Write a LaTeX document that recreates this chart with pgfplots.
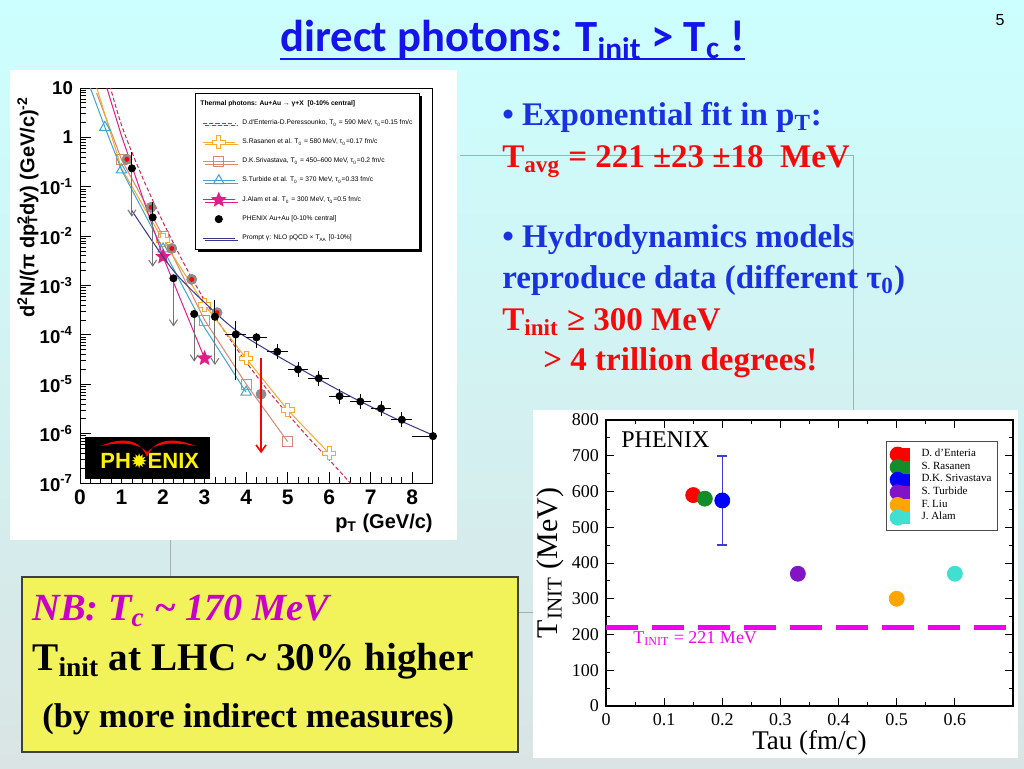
\documentclass[border=0pt]{standalone}
\usepackage{fontspec}
\setmainfont{Liberation Serif}
\newfontfamily\arial{Liberation Sans}
\newfontfamily\carlito{Carlito}
\newfontfamily\dejavu{DejaVu Sans}
\usepackage{pgfplots}
\pgfplotsset{compat=1.18}
\usetikzlibrary{arrows.meta,shadows}
\definecolor{bgtop}{RGB}{204,255,255}
\definecolor{bgbot}{RGB}{218,228,228}
\definecolor{titleblue}{RGB}{20,20,235}
\definecolor{txtblue}{RGB}{25,50,225}
\definecolor{txtred}{RGB}{245,10,10}
\definecolor{nbmag}{RGB}{200,0,200}
\definecolor{boxyellow}{RGB}{242,242,90}
\definecolor{denter}{RGB}{205,40,80}
\definecolor{rasan}{RGB}{245,170,40}
\definecolor{sriv}{RGB}{215,135,115}
\definecolor{turb}{RGB}{60,165,215}
\definecolor{alam}{RGB}{225,30,135}
\definecolor{nlo}{RGB}{55,55,140}
\definecolor{lineg}{RGB}{160,175,175}
\definecolor{cgreen}{RGB}{20,140,40}
\definecolor{cpurple}{RGB}{130,20,200}
\definecolor{corange}{RGB}{255,165,0}
\definecolor{cturq}{RGB}{64,224,208}
\definecolor{cmag}{RGB}{240,0,240}
\definecolor{ebblue}{RGB}{60,60,210}
\pgfdeclareplotmark{ocross}{%
  \pgfpathmoveto{\pgfqpoint{-0.33\pgfplotmarksize}{\pgfplotmarksize}}%
  \pgfpathlineto{\pgfqpoint{0.33\pgfplotmarksize}{\pgfplotmarksize}}%
  \pgfpathlineto{\pgfqpoint{0.33\pgfplotmarksize}{0.33\pgfplotmarksize}}%
  \pgfpathlineto{\pgfqpoint{\pgfplotmarksize}{0.33\pgfplotmarksize}}%
  \pgfpathlineto{\pgfqpoint{\pgfplotmarksize}{-0.33\pgfplotmarksize}}%
  \pgfpathlineto{\pgfqpoint{0.33\pgfplotmarksize}{-0.33\pgfplotmarksize}}%
  \pgfpathlineto{\pgfqpoint{0.33\pgfplotmarksize}{-\pgfplotmarksize}}%
  \pgfpathlineto{\pgfqpoint{-0.33\pgfplotmarksize}{-\pgfplotmarksize}}%
  \pgfpathlineto{\pgfqpoint{-0.33\pgfplotmarksize}{-0.33\pgfplotmarksize}}%
  \pgfpathlineto{\pgfqpoint{-\pgfplotmarksize}{-0.33\pgfplotmarksize}}%
  \pgfpathlineto{\pgfqpoint{-\pgfplotmarksize}{0.33\pgfplotmarksize}}%
  \pgfpathlineto{\pgfqpoint{-0.33\pgfplotmarksize}{0.33\pgfplotmarksize}}%
  \pgfpathclose\pgfusepathqfillstroke}
\pgfdeclareplotmark{fstar}{%
  \pgfpathmoveto{\pgfqpointpolar{90}{\pgfplotmarksize}}%
  \pgfpathlineto{\pgfqpointpolar{126}{0.45\pgfplotmarksize}}%
  \pgfpathlineto{\pgfqpointpolar{162}{\pgfplotmarksize}}%
  \pgfpathlineto{\pgfqpointpolar{198}{0.45\pgfplotmarksize}}%
  \pgfpathlineto{\pgfqpointpolar{234}{\pgfplotmarksize}}%
  \pgfpathlineto{\pgfqpointpolar{270}{0.45\pgfplotmarksize}}%
  \pgfpathlineto{\pgfqpointpolar{306}{\pgfplotmarksize}}%
  \pgfpathlineto{\pgfqpointpolar{342}{0.45\pgfplotmarksize}}%
  \pgfpathlineto{\pgfqpointpolar{18}{\pgfplotmarksize}}%
  \pgfpathlineto{\pgfqpointpolar{54}{0.45\pgfplotmarksize}}%
  \pgfpathclose\pgfusepathqfillstroke}
\begin{document}
\begin{tikzpicture}[x=0.5pt,y=0.5pt]
\shade[top color=bgtop, bottom color=bgbot] (0,0) rectangle (1024,768);
\draw[lineg, line width=0.5pt] (460,613) -- (853,613) -- (853,358);
\draw[lineg, line width=0.5pt] (170,228) -- (170,191);
\draw[lineg, line width=0.5pt] (518,156) -- (533,156);
\fill[white] (10,228) rectangle (457,698);
\fill[white] (533,10) rectangle (1018,358);
\filldraw[fill=boxyellow, draw=black!75, line width=0.6pt] (22,16) rectangle (518,191);

% ---------------- title
\node[anchor=base west, inner sep=0pt, text=titleblue, font=\carlito\bfseries\fontsize{22.3}{22.3}\selectfont] (title) at (280,716) {direct photons: T\textsubscript{init} > T\textsubscript{c} !};
\draw[titleblue, line width=1pt] ([yshift=-3.5pt]title.base west) -- ([yshift=-3.5pt]title.base east);
\node[font=\arial\fontsize{8}{8}\selectfont] at (1000,748) {5};

% ---------------- right text
\begin{scope}[every node/.style={anchor=base west, inner sep=0pt, font=\bfseries\fontsize{16.5}{16.5}\selectfont}]
\node[text=txtblue] at (502,643) {•\ Exponential fit in p\textsubscript{T}:};
\node[text=txtred] at (502,601) {T\textsubscript{avg} = 221 ±23 ±18\ \ MeV};
\node[text=txtblue] at (502,521) {•\ Hydrodynamics models};
\node[text=txtblue] at (502,480) {reproduce data (different τ\textsubscript{0})};
\node[text=txtred] at (502,438) {T\textsubscript{init} ≥ 300 MeV};
\node[text=txtred] at (543,398) {> 4 trillion degrees!};
\end{scope}

% ---------------- yellow box text
\node[anchor=base west, inner sep=0pt, text=nbmag, font=\bfseries\itshape\fontsize{19.2}{19.2}\selectfont] at (32,148) {NB: T\textsubscript{c} \textasciitilde{} 170 MeV};
\node[anchor=base west, inner sep=0pt, font=\bfseries\fontsize{19.6}{19.6}\selectfont] at (32,98) {T\textsubscript{init} at LHC \textasciitilde{} 30\% higher};
\node[anchor=base west, inner sep=0pt, font=\bfseries\fontsize{17.2}{17.2}\selectfont] at (42,41) {(by more indirect measures)};

% ---------------- left plot
\begin{axis}[at={(40pt,142.5pt)}, anchor=south west, scale only axis,
  width=176.5pt, height=197.5pt, ymode=log,
  xmin=0, xmax=8.5, ymin=1e-7, ymax=10,
  xtick={0,1,...,8}, minor x tick num=3,
  ytick={1e-7,1e-6,1e-5,1e-4,1e-3,1e-2,1e-1,1,10},
  yticklabels={10\textsuperscript{-7},10\textsuperscript{-6},10\textsuperscript{-5},10\textsuperscript{-4},10\textsuperscript{-3},10\textsuperscript{-2},10\textsuperscript{-1},1,10},
  xtick pos=bottom, ytick pos=left, tick align=inside,
  major tick length=5.5pt, minor tick length=3pt,
  axis line style={line width=0.5pt}, tick style={black, line width=0.4pt},
  /pgf/number format/assume math mode=true,
  xticklabel style={font=\arial\bfseries\fontsize{10.5}{10.5}\selectfont},
  yticklabel style={font=\arial\bfseries\fontsize{9.3}{9.3}\selectfont},
  clip mode=individual,
  legend cell align=left,
  legend image code/.code={\draw[mark repeat=2,mark phase=2,#1] plot coordinates {(0pt,0pt) (8.1pt,0pt) (16.2pt,0pt)};},
  legend style={at={(rel axis cs:0.326,0.988)}, anchor=north west,
    font=\arial\fontsize{3.35}{3.6}\selectfont, draw=black, line width=0.4pt,
    inner xsep=3.3pt, inner ysep=0.6pt, row sep=0pt,
    nodes={inner sep=0pt, text height=5.4pt, text depth=4.2pt},
    /tikz/every odd column/.append style={column sep=3.5pt},
    drop shadow={shadow xshift=1.3pt, shadow yshift=-1.3pt, fill=black, opacity=1}},
]
% theory curves
\addplot[forget plot, denter, line width=0.5pt, dash pattern=on 2pt off 1.2pt, smooth] coordinates {(0.55,35.5)(1.0,1.78)(1.5,0.158)(2.0,0.0191)(2.5,2.82e-3)(3.0,5.01e-4)(3.5,1.12e-4)(4.0,2.82e-5)(4.5,7.94e-6)(5.0,2.51e-6)(5.5,8.32e-7)(6.0,2.95e-7)(6.5,1.02e-7)(6.6,8.3e-8)};
\addplot[forget plot, sriv, line width=0.5pt, mark=square, mark size=2.5pt, mark options={fill=white, solid}, mark indices={2,3,4,5,6}] coordinates {(0.4,7.9)(1.0,0.355)(2.0,0.01)(3.0,2.0e-4)(4.0,1.01e-5)(5.0,6.9e-7)};
\addplot[forget plot, rasan, line width=0.5pt, mark=ocross, mark size=3.2pt, mark options={fill=white}, mark indices={2,3,4,5,6,7}] coordinates {(0.35,14.1)(1.0,0.234)(2.0,8.32e-3)(3.0,4.03e-4)(4.0,3.35e-5)(5.0,3.02e-6)(6.0,3.98e-7)};
\addplot[forget plot, turb, line width=0.5pt, mark=triangle, mark size=3pt, mark options={fill=white}, mark indices={2,3,4,6,7}] coordinates {(0.2,12.9)(0.386,4.9)(0.6,1.6)(1.0,0.219)(2.0,5.5e-3)(3.0,1.4e-4)(4.0,6.9e-6)};
\addplot[forget plot, alam, line width=0.5pt, mark=fstar, mark size=3.5pt, mark indices={2,3,4}] coordinates {(0.6,13.5)(1.0,1.07)(2.0,3.83e-3)(3.0,3.35e-5)};
\addplot[forget plot, nlo, line width=0.5pt, smooth] coordinates {(1.25,0.0328)(2.25,2.0e-3)(3.26,2.82e-4)(3.86,1.07e-4)(4.74,3.8e-5)(5.71,1.32e-5)(6.59,5.25e-6)(7.56,2.09e-6)(8.5,9.3e-7)};
% gray circles with red centre
\addplot[forget plot, only marks, mark=*, mark size=2.5pt, mark options={fill=black!45, draw=black!45}] coordinates {(1.13,0.359)(1.71,0.0383)(2.21,5.62e-3)(2.69,1.33e-3)(3.30,2.82e-4)(4.36,6.3e-6)};
\addplot[forget plot, only marks, mark=*, mark size=1pt, mark options={fill=red, draw=red}] coordinates {(1.13,0.359)(1.71,0.0383)(2.21,5.62e-3)(2.69,1.33e-3)(3.30,2.82e-4)};
% upper-limit arrows
\addplot[forget plot, black!55, line width=0.5pt, -{Straight Barb[length=3pt,width=4pt]}] coordinates {(1.25,0.236)(1.25,0.0247)};
\addplot[forget plot, black!55, line width=0.5pt, -{Straight Barb[length=3pt,width=4pt]}] coordinates {(1.75,0.024)(1.75,2.4e-3)};
\addplot[forget plot, black!55, line width=0.5pt, -{Straight Barb[length=3pt,width=4pt]}] coordinates {(2.25,1.40e-3)(2.25,1.48e-4)};
\addplot[forget plot, black!55, line width=0.5pt, -{Straight Barb[length=3pt,width=4pt]}] coordinates {(2.75,2.65e-4)(2.75,2.88e-5)};
\addplot[forget plot, black!55, line width=0.5pt, -{Straight Barb[length=3pt,width=4pt]}] coordinates {(3.25,2.33e-4)(3.25,2.45e-5)};
\addplot[forget plot, red, line width=0.8pt, -{Straight Barb[length=3.5pt,width=5pt]}] coordinates {(4.36,3.35e-5)(4.36,4.0e-7)};
% PHENIX data
\addplot[forget plot, only marks, mark=*, mark size=1.8pt, black,
  error bars/.cd, y dir=plus, y explicit, error mark=none, error bar style={line width=0.5pt}]
  table[x=x, y=y, y error plus=eyp] {
x y eyp
1.25 0.236 0.274
1.75 0.024 0.026
2.25 1.40e-3 0
2.75 2.65e-4 0
3.25 2.33e-4 2.77e-4
};
\addplot[forget plot, only marks, mark=*, mark size=1.8pt, black,
  error bars/.cd, x dir=both, x explicit, y dir=both, y explicit, error mark=none, error bar style={line width=0.5pt}]
  table[x=x, y=y, x error plus=exp, x error minus=exm, y error plus=eyp, y error minus=eym] {
x y exp exm eyp eym
3.75 1.02e-4 0.25 0.25 8.8e-5 8.97e-5
4.25 8.9e-5 0.25 0.25 2.0e-5 3.5e-5
4.75 4.57e-5 0.25 0.25 1.89e-5 1.33e-5
5.25 2.0e-5 0.25 0.25 8.3e-6 5.8e-6
5.75 1.32e-5 0.25 0.25 5.45e-6 3.85e-6
6.25 5.75e-6 0.25 0.25 2.37e-6 1.68e-6
6.75 4.47e-6 0.25 0.25 1.85e-6 1.31e-6
7.25 3.24e-6 0.25 0.25 1.34e-6 9.5e-7
7.75 1.91e-6 0.25 0.25 7.9e-7 5.6e-7
8.5 8.9e-7 0 0.5 1.0e-7 1.0e-7
};
% legend
\addlegendimage{empty legend}
\addlegendentry{\hspace*{-21pt}\textbf{Thermal photons: Au+Au → γ+X\ \ [0-10\% central]}}
\addlegendimage{denter, line width=0.5pt, dash pattern=on 2pt off 1.2pt}
\addlegendentry{D.d'Enterria-D.Peressounko, T\textsubscript{0} = 590 MeV, τ\textsubscript{0}=0.15 fm/c}
\addlegendimage{rasan, line width=0.5pt, mark=ocross, mark size=3.2pt, mark options={fill=white}}
\addlegendentry{S.Rasanen et al. T\textsubscript{0} = 580 MeV, τ\textsubscript{0}=0.17 fm/c}
\addlegendimage{sriv, line width=0.5pt, mark=square, mark size=2.5pt, mark options={fill=white}}
\addlegendentry{D.K.Srivastava, T\textsubscript{0} = 450–600 MeV, τ\textsubscript{0}=0.2 fm/c}
\addlegendimage{turb, line width=0.5pt, mark=triangle, mark size=3pt, mark options={fill=white}}
\addlegendentry{S.Turbide et al. T\textsubscript{0} = 370 MeV, τ\textsubscript{0}=0.33 fm/c}
\addlegendimage{alam, line width=0.5pt, mark=fstar, mark size=3.5pt}
\addlegendentry{J.Alam et al. T\textsubscript{0} = 300 MeV, τ\textsubscript{0}=0.5 fm/c}
\addlegendimage{only marks, mark=*, mark size=1.8pt, black}
\addlegendentry{PHENIX Au+Au [0-10\% central]}
\addlegendimage{nlo, line width=0.5pt}
\addlegendentry{Prompt γ: NLO pQCD × T\textsubscript{AA} [0-10\%]}
\end{axis}
\node[rotate=90, inner sep=0pt, font=\arial\bfseries\fontsize{10}{10}\selectfont] at (28,561) {d\textsuperscript{2}N/(π dp\rlap{\textsubscript{T}}\textsuperscript{2}dy) (GeV/c)\textsuperscript{-2}};
\node[anchor=east, inner sep=0pt, font=\arial\bfseries\fontsize{10}{10}\selectfont] at (433,245) {p\textsubscript{T} (GeV/c)};
% PHENIX logo
\fill[black] (85,289) rectangle (210,331);
\fill[red] (100,322) .. controls (125,332) and (140,328) .. (147,311) .. controls (154,328) and (170,332) .. (196,322) .. controls (170,327) and (155,324) .. (147,316) .. controls (139,324) and (125,327) .. cycle;
\node[anchor=base west, inner sep=0pt, text=yellow, font=\arial\bfseries\fontsize{11}{11}\selectfont] at (100,300) {PH{\dejavu\fontsize{10}{10}\selectfont ✹}ENIX};

% ---------------- right plot
\begin{axis}[at={(303pt,31pt)}, anchor=south west, scale only axis,
  width=203.5pt, height=143pt,
  xmin=0, xmax=0.7, ymin=0, ymax=800,
  xtick={0,0.1,0.2,0.3,0.4,0.5,0.6}, ytick={0,100,...,800},
  minor x tick num=1, minor y tick num=1,
  tick align=inside, major tick length=4pt, minor tick length=2pt,
  axis line style={line width=0.6pt}, tick style={black, line width=0.5pt},
  /pgf/number format/assume math mode=true,
  ticklabel style={font=\fontsize{9}{9}\selectfont},
  xticklabel style={/pgf/number format/.cd, fixed, precision=1},
  xlabel={Tau (fm/c)}, ylabel={T\textsubscript{INIT} (MeV)},
  xlabel style={at={(axis description cs:0.5,-0.13)}, anchor=center, font=\fontsize{13.5}{13.5}\selectfont, inner sep=0pt},
  ylabel style={at={(axis description cs:-0.1376,0.5)}, anchor=center, font=\fontsize{15}{15}\selectfont, inner sep=0pt},
  legend cell align=left,
  legend image code/.code={\fill[#1, overlay] (2.35pt,0pt) circle (3.75pt); \path (0pt,-2.9pt) rectangle (8pt,2.9pt);},
  legend style={at={(rel axis cs:0.688,0.9266)}, anchor=north west,
    font=\fontsize{5.5}{5.5}\selectfont, draw=black!70, line width=0.5pt,
    inner xsep=3pt, inner ysep=3.4pt, row sep=0pt,
    nodes={inner sep=0pt, text height=4pt, text depth=1.9pt},
    /tikz/every odd column/.append style={column sep=6pt}},
]
\addplot[forget plot, cmag, line width=2.5pt, dash pattern=on 16pt off 7pt] coordinates {(0,221)(0.7,221)};
\addplot[only marks, mark=*, mark size=3.75pt, red, fill=red] coordinates {(0.15,590)};
\addlegendentry{D. d'Enteria}
\addplot[only marks, mark=*, mark size=3.75pt, cgreen, fill=cgreen] coordinates {(0.17,580)};
\addlegendentry{S. Rasanen}
\addplot[only marks, mark=*, mark size=3.75pt, blue, fill=blue,
  error bars/.cd, y dir=both, y explicit, error mark=-, error bar style={ebblue, line width=0.7pt}, error mark options={ebblue, mark size=2.5pt, line width=0.8pt, rotate=90}]
  coordinates {(0.2,575) +- (0,125)};
\addlegendentry{D.K. Srivastava}
\addplot[only marks, mark=*, mark size=3.75pt, cpurple, fill=cpurple] coordinates {(0.33,370)};
\addlegendentry{S. Turbide}
\addplot[only marks, mark=*, mark size=3.75pt, corange, fill=corange] coordinates {(0.5,300)};
\addlegendentry{F. Liu}
\addplot[only marks, mark=*, mark size=3.75pt, cturq, fill=cturq] coordinates {(0.6,370)};
\addlegendentry{J. Alam}
\node[anchor=base west, inner sep=0pt, font=\fontsize{12}{12}\selectfont] at (axis cs:0.0258,723) {PHENIX};
\node[anchor=base west, inner sep=0pt, text=cmag, font=\fontsize{9}{9}\selectfont] at (axis cs:0.0464,176) {T\textsubscript{INIT} = 221 MeV};
\end{axis}
\end{tikzpicture}
\end{document}
